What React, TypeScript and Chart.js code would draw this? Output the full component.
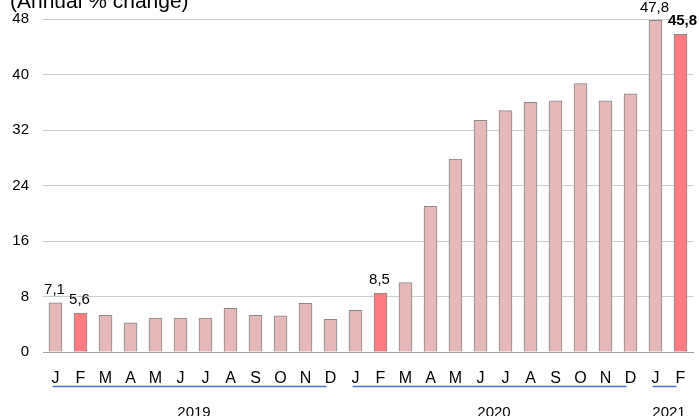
import React, { useEffect, useRef } from "react";
import { Chart, registerables } from "chart.js";

Chart.register(...registerables);

const months: string[] = ["J","F","M","A","M","J","J","A","S","O","N","D","J","F","M","A","M","J","J","A","S","O","N","D","J","F"];
const values: number[] = [7.1,5.6,5.3,4.2,4.9,4.9,4.9,6.3,5.3,5.2,7.0,4.7,6.0,8.5,10.0,21.0,27.8,33.4,34.8,36.0,36.2,38.7,36.2,37.2,47.8,45.8];
const highlighted: number[] = [1, 13, 25];
const labelled: number[] = [0, 1, 13, 24, 25];
const boldLabel: number[] = [25];
const years: string[] = ["2019", "2020", "2021"];
const yearStart: number[] = [0, 12, 24];
const yearEnd: number[] = [11, 23, 25];
const yTicks: number[] = [0, 8, 16, 24, 32, 40, 48];
const title = "(Annual % change)";

const FONT = "'Liberation Sans', Arial, sans-serif";

const overlay = {
  id: "overlay",
  afterDatasetsDraw(chart: any) {
    const ctx = chart.ctx;
    const x = chart.scales.x;
    const meta = chart.getDatasetMeta(0);
    ctx.save();
    // data labels
    ctx.textAlign = "center";
    ctx.textBaseline = "middle";
    ctx.fillStyle = "#000";
    labelled.forEach((i) => {
      const el = meta.data[i];
      const bold = boldLabel.includes(i);
      ctx.font = (bold ? "bold " : "") + "15px " + FONT;
      const txt = values[i].toFixed(1).replace(".", ",");
      ctx.fillText(txt, el.x + (bold ? 2 : -1), el.y - 13);
    });
    // year lines and labels
    years.forEach((y, k) => {
      const s = x.getPixelForValue(yearStart[k]);
      const e = x.getPixelForValue(yearEnd[k]);
      ctx.strokeStyle = "#4a74d0";
      ctx.lineWidth = 1.5;
      ctx.beginPath();
      ctx.moveTo(s - 3, 386.5);
      ctx.lineTo(e - 4, 386.5);
      ctx.stroke();
      ctx.font = "15px " + FONT;
      ctx.fillStyle = "#000";
      ctx.textBaseline = "alphabetic";
      ctx.fillText(y, (s + e) / 2 + 1, 417);
    });
    // title
    ctx.textAlign = "left";
    ctx.textBaseline = "alphabetic";
    ctx.font = "21px " + FONT;
    ctx.fillStyle = "#000";
    ctx.fillText(title, 10, 8);
    ctx.restore();
  },
};

export default function App() {
  const ref = useRef<HTMLCanvasElement | null>(null);
  useEffect(() => {
    if (!ref.current) return;
    const chart = new Chart(ref.current, {
      type: "bar",
      data: {
        labels: months,
        datasets: [
          {
            data: values,
            backgroundColor: values.map((_, i) => (highlighted.includes(i) ? "#ff7c80" : "#e6b8b8")),
            borderColor: "#888888",
            borderWidth: 1,
            barThickness: 13,
          },
        ],
      },
      options: {
        animation: false,
        responsive: false,
        maintainAspectRatio: false,
        layout: { padding: { top: 19, right: 6, left: 0, bottom: 0 } },
        plugins: { legend: { display: false }, tooltip: { enabled: false }, title: { display: false } },
        scales: {
          x: {
            grid: { display: false },
            border: { display: true, color: "#a0a0a0" },
            ticks: { color: "#000", font: { family: FONT, size: 16 }, padding: 9, autoSkip: false, maxRotation: 0 },
            afterFit: (s: any) => { s.height = 64; s.paddingLeft = 0; s.paddingRight = 0; },
          },
          y: {
            min: 0,
            max: 48,
            afterBuildTicks: (s: any) => { s.ticks = yTicks.map((v) => ({ value: v })); },
            grid: { color: "#cccccc", lineWidth: 1, drawTicks: false },
            border: { display: false },
            ticks: { color: "#000", font: { family: FONT, size: 15 }, padding: 14 },
            afterFit: (s: any) => { s.width = 43; s.paddingTop = 0; s.paddingBottom = 0; },
          },
        },
      },
      plugins: [overlay],
    });
    return () => chart.destroy();
  }, []);
  return (
    <div style={{ position: "absolute", left: 0, top: 0, width: 699, height: 416, background: "#fff" }}>
      <canvas ref={ref} width={699} height={416} style={{ width: 699, height: 416, display: "block" }} />
    </div>
  );
}
